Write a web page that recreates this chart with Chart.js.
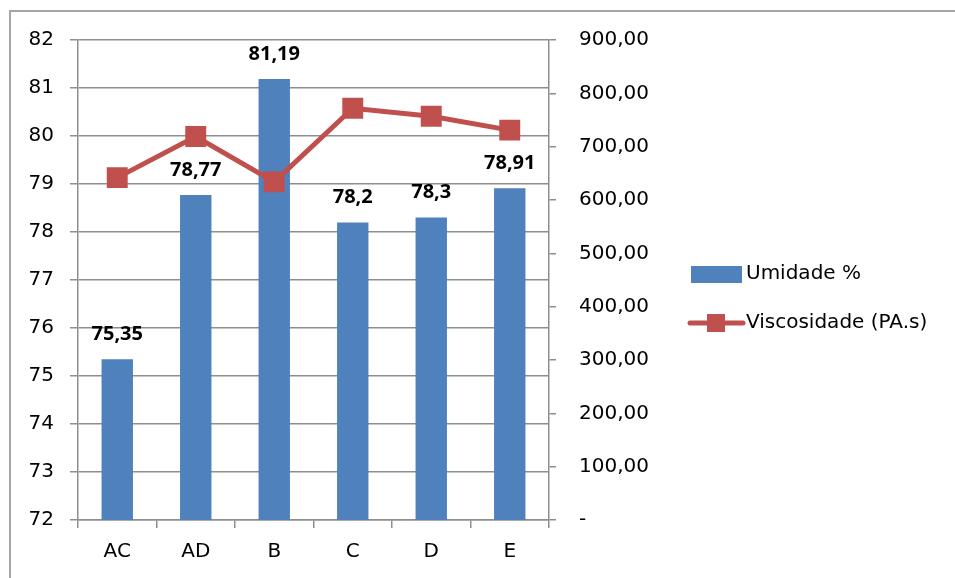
<!DOCTYPE html>
<html>
<head>
<meta charset="utf-8">
<script src="https://cdn.jsdelivr.net/npm/chart.js@4/dist/chart.umd.min.js"></script>
<style>
  html, body { margin: 0; padding: 0; background: #ffffff; overflow: hidden; }
  #wrap { position: relative; width: 955px; height: 578px; }
</style>
</head>
<body>
<div id="wrap"><canvas id="chart"></canvas></div>
<script>
// Amostras
const categories = ['AC', 'AD', 'B', 'C', 'D', 'E'];
// Umidade (%) – eixo esquerdo
const umidade = [75.35, 78.77, 81.19, 78.2, 78.3, 78.91];
// Viscosidade (PA.s) – eixo direito
const viscosidade = [642, 719, 634, 772, 757, 731];
const seriesNames = ['Umidade %', 'Viscosidade (PA.s)'];

const BLUE = '#4F81BD';
const RED = '#C0504D';
const GRID = '#8E8E8E';
const AXIS_FONT = { family: 'DejaVu Sans', size: 20 };

const fmtPt = v => String(v).replace('.', ',');
const fmtVisc = v => v === 0 ? '-' : v.toFixed(2).replace('.', ',');

// Moldura cinza (lados superior e esquerdo visíveis)
const framePlugin = {
  id: 'frame',
  beforeDraw(chart) {
    const ctx = chart.ctx;
    ctx.save();
    ctx.fillStyle = '#ffffff';
    ctx.fillRect(0, 0, chart.width, chart.height);
    ctx.strokeStyle = '#A6A6A6';
    ctx.lineWidth = 2;
    ctx.beginPath();
    ctx.moveTo(10, chart.height + 5);
    ctx.lineTo(10, 11);
    ctx.lineTo(chart.width + 5, 11);
    ctx.stroke();
    ctx.restore();
  }
};

// Rótulos de valor acima das barras
const barLabelPlugin = {
  id: 'barLabels',
  afterDatasetsDraw(chart) {
    const ctx = chart.ctx;
    const meta = chart.getDatasetMeta(0);
    const data = chart.data.datasets[0].data;
    ctx.save();
    ctx.font = 'bold 20px "Open Sans"';
    ctx.fillStyle = '#000000';
    ctx.textAlign = 'center';
    ctx.textBaseline = 'middle';
    meta.data.forEach((bar, i) => {
      ctx.fillText(fmtPt(data[i]), bar.x, bar.y - 25);
    });
    ctx.restore();
  }
};

// Legenda à direita: retângulo para as barras, linha com marcador para a série de linha
const legendPlugin = {
  id: 'sideLegend',
  afterDraw(chart) {
    const ctx = chart.ctx;
    const ds = chart.data.datasets;
    const x0 = 691, textX = 746;
    ctx.save();
    ctx.font = '20px "DejaVu Sans"';
    ctx.textBaseline = 'middle';
    ctx.textAlign = 'left';
    // barras
    let y = 274;
    ctx.fillStyle = ds[0].backgroundColor;
    ctx.fillRect(x0, y - 8, 51, 17);
    ctx.fillStyle = '#000000';
    ctx.fillText(ds[0].label, textX, y);
    // linha
    y = 323;
    ctx.strokeStyle = ds[1].borderColor;
    ctx.lineWidth = 5;
    ctx.lineCap = 'round';
    ctx.beginPath();
    ctx.moveTo(x0 - 1, y);
    ctx.lineTo(x0 + 52, y);
    ctx.stroke();
    ctx.fillStyle = ds[1].pointBackgroundColor;
    ctx.fillRect(x0 + 16, y - 9, 18, 18);
    ctx.fillStyle = '#000000';
    ctx.fillText(ds[1].label, textX, y);
    ctx.restore();
  }
};

new Chart(document.getElementById('chart'), {
  data: {
    labels: categories,
    datasets: [
      {
        type: 'bar',
        label: seriesNames[0],
        data: umidade,
        backgroundColor: BLUE,
        borderWidth: 0,
        yAxisID: 'y',
        order: 1,
        barPercentage: 0.4,
        categoryPercentage: 1.0
      },
      {
        type: 'line',
        label: seriesNames[1],
        data: viscosidade,
        borderColor: RED,
        borderWidth: 5,
        pointStyle: 'rect',
        pointRadius: 14.8,
        pointHoverRadius: 14.8,
        pointBackgroundColor: RED,
        pointBorderColor: RED,
        pointBorderWidth: 0,
        tension: 0,
        yAxisID: 'y1',
        order: 0
      }
    ]
  },
  options: {
    responsive: true,
    maintainAspectRatio: false,
    animation: false,
    events: [],
    layout: { padding: { top: 40, left: 0, right: 0, bottom: 0 } },
    plugins: {
      legend: { display: false },
      tooltip: { enabled: false }
    },
    scales: {
      x: {
        offset: true,
        grid: {
          offset: true,
          drawOnChartArea: false,
          drawTicks: true,
          tickLength: 8,
          color: GRID,
          lineWidth: 1.5
        },
        border: { color: GRID, width: 1.5 },
        ticks: { color: '#000000', font: AXIS_FONT, padding: 12, maxRotation: 0 },
        afterFit(scale) { scale.height = 58; }
      },
      y: {
        position: 'left',
        min: 72,
        max: 82,
        ticks: { stepSize: 1, color: '#000000', font: AXIS_FONT, padding: 16 },
        grid: { color: GRID, lineWidth: 1.5, tickLength: 8, drawTicks: true },
        border: { color: GRID, width: 1.5 },
        afterFit(scale) { scale.width = 78; }
      },
      y1: {
        position: 'right',
        min: 0,
        max: 900,
        ticks: {
          stepSize: 100,
          color: '#000000',
          font: AXIS_FONT,
          padding: 23,
          callback: v => fmtVisc(v)
        },
        grid: { drawOnChartArea: false, drawTicks: true, tickLength: 7, color: GRID, lineWidth: 1.5 },
        border: { color: GRID, width: 1.5 },
        afterFit(scale) { scale.width = 955 - 549; }
      }
    }
  },
  plugins: [framePlugin, barLabelPlugin, legendPlugin]
});
</script>
</body>
</html>
